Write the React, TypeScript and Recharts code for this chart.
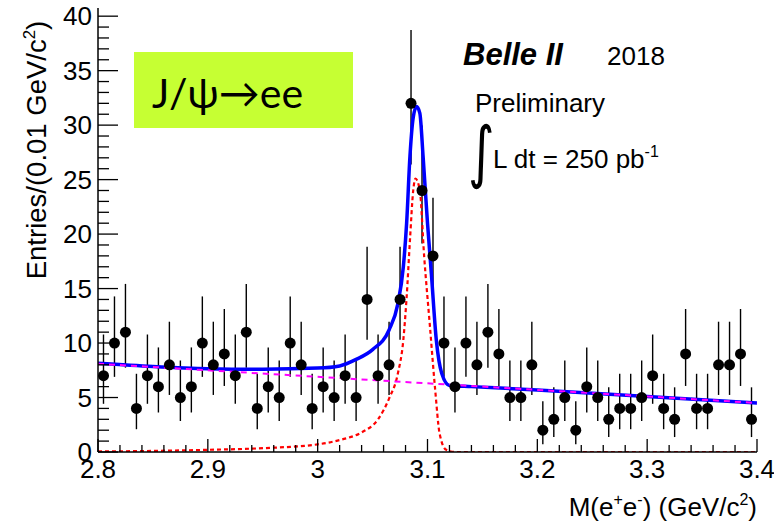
import React from 'react';
import { ComposedChart, Scatter, Line, XAxis, YAxis, ErrorBar } from 'recharts';

// histogram binning (GeV/c^2)
const binStart = 2.8;
const binWidth = 0.01;
const counts = [
  7, 10, 11, 4, 7, 6, 8, 5, 6, 10,
  8, 9, 7, 11, 4, 6, 5, 10, 8, 4,
  6, 5, 7, 5, 14, 7, 8, 14, 32, 24,
  18, 10, 6, 10, 8, 11, 9, 5, 5, 8,
  2, 3, 5, 2, 6, 5, 3, 4, 4, 5,
  7, 4, 3, 9, 4, 4, 8, 8, 9, 3,
];

// fit curves
const totalX = [2.8, 2.85, 2.9, 2.95, 3.0, 3.02, 3.035, 3.05, 3.065, 3.073, 3.078, 3.081, 3.084, 3.087, 3.09, 3.093, 3.096, 3.1, 3.1035, 3.108, 3.113, 3.12, 3.14, 3.2, 3.3, 3.4];
const totalY = [8.15, 7.85, 7.65, 7.6, 7.7, 7.9, 8.5, 9.4, 11.2, 13.6, 17.0, 21.0, 27.1, 30.7, 31.7, 31.1, 27.1, 21.0, 16.4, 10.3, 7.2, 6.1, 6.0, 5.7, 5.1, 4.5];
const signalX = [2.8, 2.85, 2.9, 2.95, 3.0, 3.02, 3.04, 3.055, 3.065, 3.073, 3.078, 3.081, 3.084, 3.087, 3.089, 3.093, 3.097, 3.102, 3.107, 3.111, 3.117, 3.125, 3.2, 3.3, 3.4];
const signalY = [0.05, 0.1, 0.2, 0.35, 0.7, 1.1, 1.8, 3.0, 4.9, 7.2, 10.3, 14.2, 19.4, 24.0, 25.1, 24.0, 17.9, 11.8, 5.7, 1.7, 0.2, 0, 0, 0, 0];
const bkgX = [2.8, 3.4];
const bkgY = [8.1, 4.5];

const xTicks = [2.8, 2.82, 2.84, 2.86, 2.88, 2.9, 2.92, 2.94, 2.96, 2.98, 3.0, 3.02, 3.04, 3.06, 3.08, 3.1, 3.12, 3.14, 3.16, 3.18, 3.2, 3.22, 3.24, 3.26, 3.28, 3.3, 3.32, 3.34, 3.36, 3.38, 3.4];
const yTicks = [0, 1, 2, 3, 4, 5, 6, 7, 8, 9, 10, 11, 12, 13, 14, 15, 16, 17, 18, 19, 20, 21, 22, 23, 24, 25, 26, 27, 28, 29, 30, 31, 32, 33, 34, 35, 36, 37, 38, 39, 40];
const Y_MAX = 40.75;

// asymmetric poisson errors (Gehrels approximation), as ROOT draws them
const poissonErr = (n: number): [number, number] => {
  if (n === 0) return [0, 1.84];
  const lo = n * Math.pow(1 - 1 / (9 * n) - 1 / (3 * Math.sqrt(n)), 3);
  const hi = n + Math.sqrt(n + 0.75) + 1;
  return [n - lo, hi - n];
};

const points = counts.map((c, i) => ({ x: binStart + binWidth * (i + 0.5), y: c, err: poissonErr(c) }));
const toSeries = (xs: number[], ys: number[]) => xs.map((x, i) => ({ x, y: ys[i] }));
const totalData = toSeries(totalX, totalY);
const signalData = toSeries(signalX, signalY);
const bkgData = toSeries(bkgX, bkgY);

const FONT = '"Liberation Sans", Arial, sans-serif';
const isMajorX = (v: number) => Math.abs(v * 10 - Math.round(v * 10)) < 1e-6;
const isMajorY = (v: number) => v % 5 === 0;
const fmt = (v: number) => String(Number(v.toFixed(2)));

const BottomTick = (props: any) => {
  const { x, y, payload } = props;
  const major = isMajorX(payload.value);
  return (
    <g>
      <line x1={x} y1={y} x2={x} y2={y - (major ? 13 : 7)} stroke="#000" strokeWidth={1.3} />
      {major && (
        <text x={x} y={y + 26} textAnchor="middle" fontFamily={FONT} fontSize={26} fill="#000">
          {fmt(payload.value)}
        </text>
      )}
    </g>
  );
};

const TopTick = (props: any) => {
  const { x, y, payload } = props;
  const major = isMajorX(payload.value);
  return <line x1={x} y1={y} x2={x} y2={y + (major ? 13 : 7)} stroke="#000" strokeWidth={1.3} />;
};

const LeftTick = (props: any) => {
  const { x, y, payload } = props;
  const major = isMajorY(payload.value);
  return (
    <g>
      <line x1={x} y1={y} x2={x + (major ? 20 : 11)} y2={y} stroke="#000" strokeWidth={1.3} />
      {major && (
        <text x={x - 6} y={y + 9} textAnchor="end" fontFamily={FONT} fontSize={26} fill="#000">
          {payload.value}
        </text>
      )}
    </g>
  );
};

const RightTick = (props: any) => {
  const { x, y, payload } = props;
  const major = isMajorY(payload.value);
  return <line x1={x} y1={y} x2={x - (major ? 20 : 11)} y2={y} stroke="#000" strokeWidth={1.3} />;
};

const Dot = (props: any) => <circle cx={props.cx} cy={props.cy} r={5.5} fill="#000" />;

const frame = { stroke: '#000', strokeWidth: 1.5 };

export default function App() {
  return (
    <div style={{ position: 'absolute', left: 0, top: 0, width: 774, height: 529, background: '#fff' }}>
      <ComposedChart width={774} height={529} margin={{ top: 8, right: 17, bottom: 47, left: 38 }}>
        <XAxis
          dataKey="x"
          type="number"
          domain={[2.8, 3.4]}
          ticks={xTicks}
          interval={0}
          tickSize={0}
          tickMargin={0}
          height={30}
          axisLine={frame}
          tickLine={false}
          tick={(p: any) => <BottomTick {...p} />}
          allowDataOverflow
        />
        <XAxis
          xAxisId="top"
          orientation="top"
          dataKey="x"
          type="number"
          domain={[2.8, 3.4]}
          ticks={xTicks}
          interval={0}
          tickSize={0}
          tickMargin={0}
          height={0}
          axisLine={frame}
          tickLine={false}
          tick={(p: any) => <TopTick {...p} />}
          allowDataOverflow
        />
        <YAxis
          type="number"
          domain={[0, Y_MAX]}
          ticks={yTicks}
          interval={0}
          tickSize={0}
          tickMargin={0}
          width={60}
          axisLine={frame}
          tickLine={false}
          tick={(p: any) => <LeftTick {...p} />}
          allowDataOverflow
        />
        <YAxis
          yAxisId="right"
          orientation="right"
          type="number"
          domain={[0, Y_MAX]}
          ticks={yTicks}
          interval={0}
          tickSize={0}
          tickMargin={0}
          width={0}
          axisLine={frame}
          tickLine={false}
          tick={(p: any) => <RightTick {...p} />}
          allowDataOverflow
        />
        <Scatter data={points} dataKey="y" shape={<Dot />} isAnimationActive={false}>
          <ErrorBar dataKey="err" direction="y" width={0} stroke="#000" strokeWidth={1.4} />
        </Scatter>
        <Line data={signalData} dataKey="y" type="monotone" dot={false} stroke="#ff0000" strokeWidth={2.2} strokeDasharray="4 3" isAnimationActive={false} />
        <Line data={totalData} dataKey="y" type="monotone" dot={false} stroke="#0000ff" strokeWidth={3.5} isAnimationActive={false} />
        <Line data={bkgData} dataKey="y" type="linear" dot={false} stroke="#ff00ff" strokeWidth={2} strokeDasharray="6 5" isAnimationActive={false} />
      </ComposedChart>

      <svg width={774} height={529} style={{ position: 'absolute', left: 0, top: 0, pointerEvents: 'none' }}>
        <rect x={134} y={52} width={219} height={76} fill="#c6ff33" />
        <text x={152} y={108} fontFamily='Lato, "DejaVu Sans", sans-serif' fontSize={41} fill="#000">J/ψ→ee</text>
        <text x={463} y={65} fontFamily={FONT} fontSize={31} fontWeight="bold" fontStyle="italic" fill="#000">Belle II</text>
        <text x={607} y={65} fontFamily={FONT} fontSize={26} fill="#000">2018</text>
        <text x={475} y={112} fontFamily={FONT} fontSize={26} fill="#000">Preliminary</text>
        <text transform="translate(468,175) scale(0.75,1)" fontFamily='"DejaVu Sans", sans-serif' fontSize={68} fill="#000">∫</text>
        <text x={493} y={168} fontFamily={FONT} fontSize={26} fill="#000">
          L dt = 250 pb<tspan fontSize={16} dy={-11}>-1</tspan>
        </text>
        <text transform="translate(46,150) rotate(-90)" textAnchor="middle" fontFamily={FONT} fontSize={27.5} fill="#000">
          Entries/(0.01 GeV/c<tspan fontSize={17} dy={-11}>2</tspan><tspan dy={11}>)</tspan>
        </text>
        <text x={757} y={516} textAnchor="end" fontFamily={FONT} fontSize={26} fill="#000">
          M(e<tspan fontSize={16} dy={-11}>+</tspan><tspan dy={11}>e</tspan><tspan fontSize={16} dy={-11}>-</tspan><tspan dy={11}>) (GeV/c</tspan><tspan fontSize={16} dy={-11}>2</tspan><tspan dy={11}>)</tspan>
        </text>
      </svg>
    </div>
  );
}
